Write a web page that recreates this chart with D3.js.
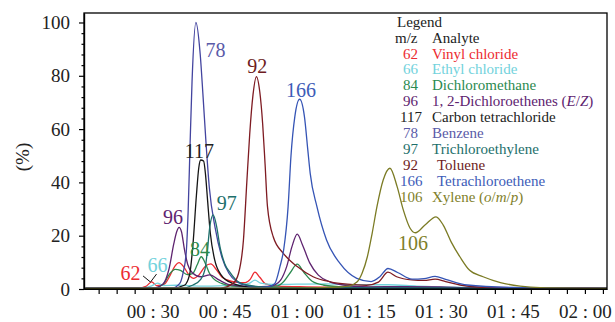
<!DOCTYPE html>
<html>
<head>
<meta charset="utf-8">
<title>Chromatogram</title>
<script src="https://cdn.jsdelivr.net/npm/d3@7"></script>
<style>
  body { margin: 0; background: #fff; }
  text { font-family: "Liberation Serif", "DejaVu Serif", serif; }
  .trace { fill: none; stroke-width: 1.3px; stroke-linejoin: round; }
  .axis path, .axis line { stroke: #000; stroke-width: 1.2px; }
  .axis text { font-size: 19px; fill: #222; }
</style>
</head>
<body>
<script>
// m/z and analyte names, legend order
var mz = [62, 66, 84, 96, 117, 78, 97, 92, 166, 106];
var analytes = ["Vinyl chloride", "Ethyl chloride", "Dichloromethane",
    "1, 2-Dichloroethenes (E/Z)", "Carbon tetrachloride", "Benzene",
    "Trichloroethylene", "Toluene", "Tetrachloroethene", "Xylene (o/m/p)"];

// traces: [time (min), relative abundance (%)]
var vinylChloride = [[16,0.3],[27,0.4],[28.6,1],[29.8,2.7],[30.8,1.3],[32.4,1.8],[33.6,5],[34.6,8.5],[35.5,9.9],[36.5,8.2],[37.6,5.2],[38.5,4],[39.6,5.2],[40.9,8.4],[42.1,9.4],[43.2,7.4],[44.4,4.5],[45.5,3.4],[47.2,2.6],[49.3,2.4],[50.3,3.6],[51.3,6.3],[52.3,4.4],[53.5,1.9],[56,1.1],[62,0.8],[70,0.6],[85,0.5],[100,0.3],[124.6,0.2]];
var ethylChloride = [[16,0.3],[28,0.4],[29.8,1.2],[31,2.2],[32.3,1.3],[35,1.4],[40,1.1],[45,1.3],[48.5,1.6],[50.2,2.2],[51.3,3.3],[52.5,2.2],[55,1.7],[60,1.8],[66,1.9],[72,1.6],[79,1.6],[85,1.1],[95,0.6],[110,0.3],[124.6,0.2]];
var dichloromethane = [[16,0.2],[30,0.3],[32.2,1.8],[33.5,5.6],[34.7,7.4],[35.8,7],[37.2,5.4],[38.3,5.8],[39.3,9.2],[40.1,12.1],[41,9.5],[41.8,6],[42.6,4],[44.3,2.1],[46.5,1.1],[52,0.8],[56,1.2],[57.3,2.8],[58.6,6],[60.1,9.3],[61.5,6.2],[63.2,2.9],[65.5,1.5],[70,0.8],[85,0.5],[124.6,0.2]];
var dichloroethenes = [[16,0.2],[30,0.3],[32.1,1.8],[33.4,7.5],[34.4,17],[35,21.5],[35.5,23.1],[36,21.5],[36.6,15],[37.3,9.2],[38.3,6],[40,4.6],[41.9,5.3],[43.8,3.4],[46,1.6],[50,0.9],[54,1],[55.5,1.6],[56.6,3.2],[57.9,8.4],[59,15.9],[60.1,20.6],[61.2,16.5],[62.7,9.8],[64.5,5.2],[66.9,2.7],[69.7,1.5],[75,0.8],[82,0.9],[90,0.8],[96,0.4],[124.6,0.2]];
var carbonTetrachloride = [[16,0.2],[34,0.3],[36.6,1.4],[37.7,5.5],[38.4,17],[39.1,35],[39.6,45.5],[40,48.4],[40.6,48],[41,43],[41.4,34],[42,21],[42.9,11],[44.2,5.4],[46.5,2.2],[50,0.8],[56,0.4],[124.6,0.2]];
var benzene = [[16,0.2],[34,0.3],[35.6,2],[36.3,5.8],[37,14],[37.4,30],[37.8,55],[38.2,78],[39,100],[39.9,88],[40.5,72],[41.1,55],[41.8,38],[43,23],[44.4,12],[45.9,5.8],[47.6,2.6],[50,1.1],[56,0.5],[124.6,0.2]];
var trichloroethylene = [[16,0.2],[36,0.3],[38.4,1.5],[39.9,3.4],[40.9,7.4],[41.4,14.6],[41.9,23.4],[42.6,27.8],[43.3,23.6],[44,16],[45,9.5],[46.1,6.2],[47.6,3],[49.7,1.5],[54,0.7],[62,0.5],[124.6,0.2]];
var toluene = [[16,0.2],[44,0.3],[46.8,2.2],[47.9,6],[48.9,18.4],[49.6,40],[50.2,58],[50.9,73],[51.6,79.7],[52.3,74],[52.9,62],[53.4,47],[53.9,31],[55.1,19.6],[57.2,13.4],[60.1,8.4],[63.4,4.6],[67,2.7],[70.5,1.8],[74.5,1.4],[77,2.6],[79,6.3],[80.8,4.6],[84,3.4],[86.5,3.2],[88.8,3.7],[91,2.8],[94,1.5],[100,0.6],[124.6,0.2]];
var tetrachloroethene = [[16,0.2],[50,0.3],[54,0.8],[55.4,2],[56.5,8.4],[57.3,15],[58.2,30.9],[58.8,50],[59.6,64.7],[60.6,71.2],[61.6,64.7],[62.3,52.2],[62.8,43.4],[64.2,30.9],[66.2,18.4],[69,9.6],[72.5,4],[75.5,2.8],[77.3,4.6],[79,7.7],[81,6.2],[84,3.7],[86.5,3.9],[88.8,4.7],[91,3.6],[95.5,1.5],[105,0.6],[124.6,0.2]];
var xylene = [[16,0.2],[60,0.3],[67,0.6],[70.8,1.1],[72.6,2.7],[73.6,5.9],[74.7,12.1],[75.7,20.9],[76.7,30.9],[78,40.9],[79.4,45.3],[80.9,38.4],[82.2,29.6],[83.6,22.8],[84.7,21.1],[86.7,24],[89,27.1],[90.5,24],[92.2,17.5],[94,12],[96,7],[98.8,4.6],[102.4,2.4],[106.5,1.1],[110.7,0.5],[124.6,0.2]];

var traces = [vinylChloride, ethylChloride, dichloromethane, dichloroethenes,
    carbonTetrachloride, benzene, trichloroethylene, toluene, tetrachloroethene, xylene];

// peak labels: [time, %] where each m/z tag sits
var peakTags = [[25.4,3.4],[31.0,6.4],[39.85,12.4],[34.25,24.4],[39.75,49.3],
    [43.1,87],[45.4,29.6],[51.8,81],[60.9,72],[84.2,14.6]];
// black leader under the 62 / 66 tags
var leader = [[28.0,4.9],[29.55,2.6],[30.8,5.6]];

var colors = ["#ec2b31", "#72d2dc", "#2b8a4f", "#5e236f", "#151515",
    "#43449f", "#1d6f6b", "#7e1b22", "#3554b5", "#7b7b24"];
var legendColors = ["#ec2b31", "#72d2dc", "#2b8a4f", "#5e236f", "#222",
    "#5a5aa8", "#1d6f6b", "#6e1c22", "#3d5cb8", "#7f7f2a"];

var width = 615, height = 322;
var plotL = 84, plotR = 607, plotT = 13, plotB = 289;

var x = d3.scaleLinear().domain([15.7, 124.6]).range([plotL, plotR]);
var y = d3.scaleLinear().domain([0, 103.56]).range([plotB, plotT]);

var svg = d3.select("body").append("svg")
    .attr("width", width)
    .attr("height", height);

var line = d3.line()
    .x(function (d) { return x(d[0]); })
    .y(function (d) { return y(d[1]); })
    .curve(d3.curveMonotoneX);

svg.append("g").selectAll("path")
    .data(traces)
    .enter().append("path")
    .attr("class", "trace")
    .attr("stroke", function (d, i) { return colors[i]; })
    .attr("d", line);

// y axis
svg.append("g")
    .attr("class", "axis")
    .attr("transform", "translate(" + plotL + ",0)")
    .call(d3.axisLeft(y).tickValues(d3.range(0, 101, 20))
        .tickSize(5).tickSizeOuter(0).tickPadding(9));
svg.append("g")
    .attr("class", "axis")
    .attr("transform", "translate(" + plotL + ",0)")
    .call(d3.axisLeft(y).tickValues(d3.range(4, 101, 4).filter(function (v) { return v % 20; }))
        .tickSize(2.5).tickSizeOuter(0).tickFormat(""));

// x axis, hh : mm
function hhmm(t) {
    if (Math.abs(t % 15) > 1e-6) return "";
    var h = Math.floor(t / 60), m = Math.round(t % 60);
    return "0" + h + " : " + (m < 10 ? "0" + m : m);
}
svg.append("g")
    .attr("class", "axis")
    .attr("transform", "translate(0," + plotB + ")")
    .call(d3.axisBottom(x).tickValues(d3.range(18.75, 124.6, 3.75))
        .tickSize(5).tickSizeOuter(0).tickPadding(11).tickFormat(hhmm));

// frame
svg.append("rect")
    .attr("x", plotL).attr("y", plotT)
    .attr("width", plotR - plotL).attr("height", plotB - plotT)
    .attr("fill", "none").attr("stroke", "#000").attr("stroke-width", 1.3);

svg.append("text")
    .attr("transform", "translate(29,157)rotate(-90)")
    .attr("text-anchor", "middle")
    .style("font-size", "19px").attr("fill", "#222")
    .text("(%)");

// peak tags
svg.append("g").selectAll("text")
    .data(peakTags)
    .enter().append("text")
    .attr("x", function (d) { return x(d[0]); })
    .attr("y", function (d) { return y(d[1]); })
    .attr("text-anchor", "middle")
    .style("font-size", "20px")
    .attr("fill", function (d, i) { return legendColors[i]; })
    .text(function (d, i) { return mz[i]; });

svg.append("path")
    .datum(leader)
    .attr("fill", "none").attr("stroke", "#111").attr("stroke-width", 1)
    .attr("d", d3.line().x(function (d) { return x(d[0]); }).y(function (d) { return y(d[1]); }));

// legend
var lg = svg.append("g").style("font-size", "15px");
lg.append("text").attr("x", 397).attr("y", 26.5).attr("fill", "#222").text("Legend");
lg.append("text").attr("x", 395).attr("y", 42.5).attr("fill", "#222").text("m/z");
lg.append("text").attr("x", 432).attr("y", 42.5).attr("fill", "#222").text("Analyte");

var rows = lg.selectAll("g.row")
    .data(mz)
    .enter().append("g")
    .attr("class", "row")
    .attr("fill", function (d, i) { return legendColors[i]; })
    .attr("transform", function (d, i) { return "translate(0," + (58.5 + i * 15.9) + ")"; });

rows.append("text")
    .attr("x", function (d) { return d > 99 ? 400 : 403; })
    .text(function (d) { return d; });

rows.append("text")
    .attr("x", function (d, i) { return (i === 7 || i === 8) ? 437 : 432; })
    .each(function (d, i) {
        var name = analytes[i];
        var m = name.match(/^(.*\()(.*)(\))$/);
        var t = d3.select(this);
        if (!m) { t.text(name); return; }
        t.append("tspan").text(m[1]);
        m[2].split("/").forEach(function (part, k) {
            if (k) t.append("tspan").text("/");
            t.append("tspan").style("font-style", "italic").text(part);
        });
        t.append("tspan").text(m[3]);
    });
</script>
</body>
</html>
